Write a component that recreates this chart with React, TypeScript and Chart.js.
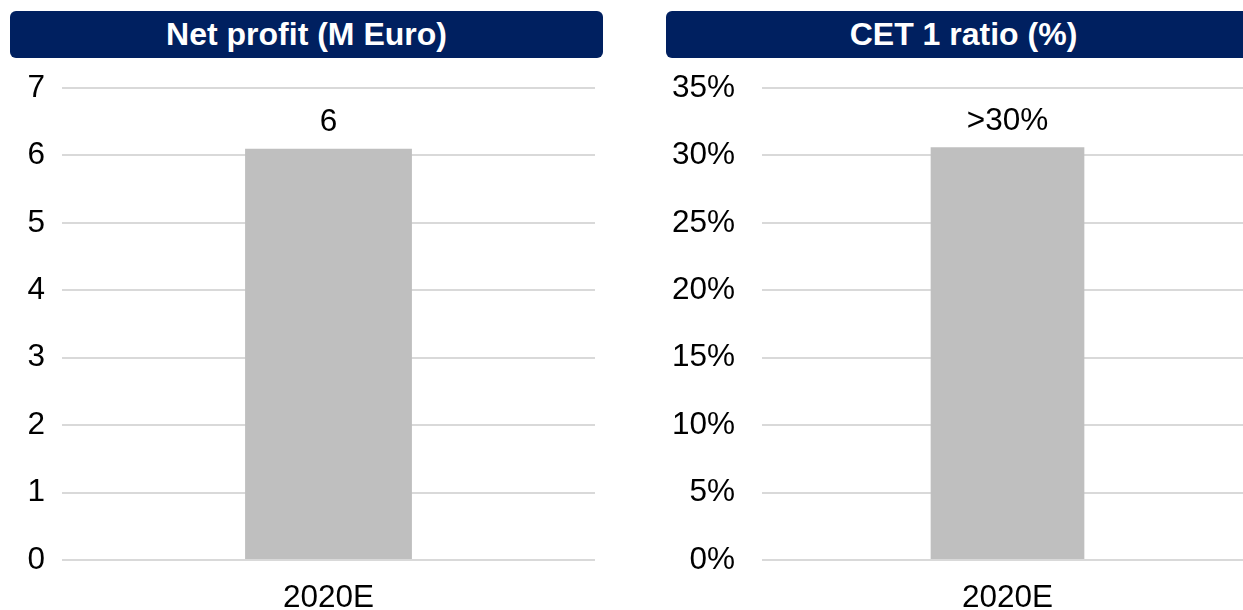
import React, { useEffect, useRef } from "react";
import { Chart, registerables } from "chart.js";

Chart.register(...registerables);

const categories = ["2020E"];
const netProfitValues = [6.1];
const netProfitLabels = ["6"];
const netProfitAxis = { min: 0, max: 7, step: 1 };
const cetValues = [30.6];
const cetLabels = [">30%"];
const cetAxis = { min: 0, max: 35, step: 5 };

const FONT = '"Liberation Sans", Arial, Helvetica, sans-serif';
const NAVY = "#002060";
const BAR = "#bfbfbf";
const GRID = "#d9d9d9";
const TEXT_SIZE = 31.5;

const valueLabelPlugin = {
  id: "valueLabels",
  afterDatasetsDraw(chart: any, _args: any, opts: any) {
    const { ctx } = chart;
    const meta = chart.getDatasetMeta(0);
    ctx.save();
    ctx.font = `${opts.size}px ${FONT}`;
    ctx.fillStyle = "#000";
    ctx.textAlign = "center";
    ctx.textBaseline = "middle";
    meta.data.forEach((bar: any, i: number) => {
      ctx.fillText(opts.labels[i], bar.x, bar.y - opts.offset);
    });
    ctx.restore();
  },
};

type PanelProps = {
  values: number[];
  labels: string[];
  axis: { min: number; max: number; step: number };
  suffix: string;
  yWidth: number;
  yPad: number;
  padRight: number;
  left: number;
  width: number;
};

function BarPanel(p: PanelProps) {
  const ref = useRef<HTMLCanvasElement | null>(null);
  useEffect(() => {
    if (!ref.current) return;
    const chart = new Chart(ref.current, {
      type: "bar",
      data: {
        labels: categories,
        datasets: [
          {
            data: p.values,
            backgroundColor: BAR,
            borderWidth: 0,
            barPercentage: 0.313,
            categoryPercentage: 1,
          },
        ],
      },
      options: {
        animation: false,
        responsive: false,
        maintainAspectRatio: false,
        layout: { padding: { top: 28, right: p.padRight, left: 0, bottom: 0 } },
        plugins: {
          legend: { display: false },
          tooltip: { enabled: false },
          valueLabels: { labels: p.labels, offset: 26, size: TEXT_SIZE },
        } as any,
        scales: {
          x: {
            grid: { display: false, drawTicks: false },
            border: { display: false },
            ticks: { color: "#000", font: { family: FONT, size: TEXT_SIZE }, padding: 19, maxRotation: 0 },
            afterFit: (s: any) => {
              s.height = 50;
              s.paddingTop = 0;
              s.paddingBottom = 0;
            },
          },
          y: {
            min: p.axis.min,
            max: p.axis.max,
            grid: { color: GRID, lineWidth: 2, drawTicks: false },
            border: { display: false },
            ticks: {
              stepSize: p.axis.step,
              color: "#000",
              padding: p.yPad,
              font: { family: FONT, size: TEXT_SIZE },
              callback: (v: any) => `${v}${p.suffix}`,
            },
            afterFit: (s: any) => {
              s.width = p.yWidth;
              s.paddingTop = 0;
              s.paddingBottom = 0;
            },
          },
        },
      },
      plugins: [valueLabelPlugin],
    });
    return () => chart.destroy();
  }, []);
  return (
    <canvas
      ref={ref}
      width={p.width}
      height={550}
      style={{ position: "absolute", left: p.left, top: 60, width: p.width, height: 550 }}
    />
  );
}

function Header({ text, left, width }: { text: string; left: number; width: number }) {
  return (
    <div
      style={{
        position: "absolute",
        left,
        top: 11,
        width,
        height: 47,
        background: NAVY,
        borderRadius: 6,
        color: "#fff",
        fontFamily: FONT,
        fontWeight: "bold",
        fontSize: 32,
        lineHeight: "47px",
        textAlign: "center",
        whiteSpace: "nowrap",
      }}
    >
      {text}
    </div>
  );
}

export default function App() {
  return (
    <div
      style={{
        position: "absolute",
        left: 0,
        top: 0,
        width: 1243,
        height: 610,
        overflow: "hidden",
        background: "#fff",
      }}
    >
      <Header text="Net profit (M Euro)" left={10} width={593} />
      <Header text="CET 1 ratio (%)" left={666} width={595} />
      <BarPanel
        values={netProfitValues}
        labels={netProfitLabels}
        axis={netProfitAxis}
        suffix=""
        yWidth={62}
        yPad={17}
        padRight={5}
        left={0}
        width={600}
      />
      <BarPanel
        values={cetValues}
        labels={cetLabels}
        axis={cetAxis}
        suffix="%"
        yWidth={122}
        yPad={27}
        padRight={7}
        left={640}
        width={620}
      />
    </div>
  );
}
